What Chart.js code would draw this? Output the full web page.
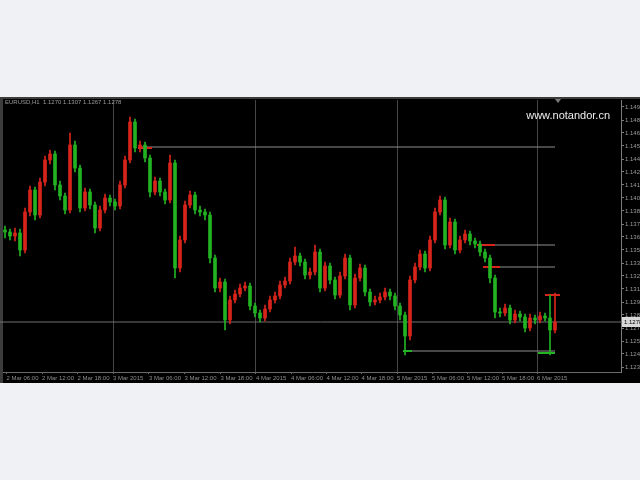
<!DOCTYPE html>
<html>
<head>
<meta charset="utf-8">
<script src="https://cdn.jsdelivr.net/npm/chart.js@4.4.0/dist/chart.umd.min.js"></script>
<style>
html,body{margin:0;padding:0;background:#eff1f4;overflow:hidden;}
#wrap{position:absolute;left:0;top:0;width:640px;height:480px;}
canvas{filter:blur(0.7px);}
</style>
</head>
<body>
<div id="wrap"><canvas id="c" width="640" height="480"></canvas></div>
<script>
// ---- data ----
const symbolTitle = "EURUSD,H1  1.1270 1.1307 1.1267 1.1278";
const watermark = "www.notandor.cn";

const opens = [1.1370,1.1368,1.1364,1.1367,1.1350,1.1388,1.1410,1.1385,1.1418,1.1440,
1.1446,1.1415,1.1404,1.1390,1.1455,1.1432,1.1392,1.1408,1.1395,1.1372,
1.1390,1.1402,1.1398,1.1394,1.1415,1.1440,1.1478,1.1452,1.1455,1.1442,
1.1408,1.1419,1.1408,1.1400,1.1437,1.1332,1.1360,1.1395,1.1405,1.1390,
1.1388,1.1385,1.1342,1.1312,1.1318,1.1280,1.1300,1.1306,1.1312,1.1314,
1.1294,1.1287,1.1282,1.1291,1.1300,1.1304,1.1315,1.1319,1.1338,1.1344,
1.1338,1.1325,1.1328,1.1348,1.1312,1.1334,1.1320,1.1305,1.1324,1.1342,
1.1295,1.1322,1.1332,1.1308,1.1298,1.1300,1.1303,1.1308,1.1304,1.1294,
1.1285,1.1264,1.1320,1.1333,1.1346,1.1332,1.1360,1.1388,1.1400,1.1355,
1.1378,1.1350,1.1360,1.1366,1.1359,1.1356,1.1348,1.1342,1.1322,1.1288,
1.1287,1.1292,1.1280,1.1286,1.1283,1.1272,1.1282,1.1280,1.1284,1.1282,
1.1270];

const highs = [1.1374,1.1371,1.1372,1.1371,1.1392,1.1414,1.1413,1.1422,1.1444,1.1450,
1.1449,1.1419,1.1407,1.1467,1.1459,1.1435,1.1412,1.1411,1.1398,1.1394,
1.1406,1.1405,1.1401,1.1419,1.1444,1.1483,1.1481,1.1459,1.1458,1.1445,
1.1423,1.1422,1.1411,1.1445,1.1440,1.1364,1.1399,1.1409,1.1408,1.1394,
1.1391,1.1388,1.1345,1.1322,1.1321,1.1304,1.1310,1.1316,1.1318,1.1317,
1.1297,1.1290,1.1295,1.1304,1.1308,1.1319,1.1323,1.1342,1.1353,1.1347,
1.1341,1.1332,1.1355,1.1351,1.1338,1.1337,1.1323,1.1328,1.1346,1.1345,
1.1326,1.1336,1.1335,1.1311,1.1304,1.1307,1.1312,1.1311,1.1307,1.1297,
1.1288,1.1324,1.1337,1.1350,1.1349,1.1364,1.1392,1.1404,1.1403,1.1382,
1.1381,1.1364,1.1370,1.1369,1.1362,1.1359,1.1351,1.1345,1.1325,1.1292,
1.1296,1.1295,1.1290,1.1289,1.1286,1.1286,1.1285,1.1288,1.1287,1.1305,
1.1307];

const lows = [1.1362,1.1360,1.1359,1.1344,1.1347,1.1384,1.1380,1.1382,1.1414,1.1436,
1.1410,1.1400,1.1386,1.1387,1.1428,1.1388,1.1389,1.1391,1.1367,1.1369,
1.1387,1.1394,1.1390,1.1391,1.1412,1.1437,1.1448,1.1448,1.1438,1.1403,
1.1405,1.1404,1.1396,1.1397,1.1322,1.1328,1.1357,1.1392,1.1386,1.1384,
1.1380,1.1337,1.1308,1.1308,1.1270,1.1276,1.1297,1.1303,1.1309,1.1290,
1.1283,1.1278,1.1279,1.1288,1.1297,1.1301,1.1312,1.1316,1.1335,1.1334,
1.1321,1.1321,1.1325,1.1308,1.1309,1.1316,1.1301,1.1302,1.1321,1.1290,
1.1292,1.1319,1.1304,1.1294,1.1295,1.1297,1.1300,1.1300,1.1290,1.1280,
1.1245,1.1260,1.1317,1.1330,1.1328,1.1329,1.1357,1.1385,1.1351,1.1352,
1.1346,1.1347,1.1357,1.1355,1.1352,1.1344,1.1338,1.1317,1.1282,1.1283,
1.1284,1.1276,1.1277,1.1279,1.1268,1.1269,1.1276,1.1277,1.1279,1.1245,
1.1267];

const closes = [1.1368,1.1364,1.1367,1.1350,1.1388,1.1410,1.1385,1.1418,1.1440,1.1446,
1.1415,1.1404,1.1390,1.1455,1.1432,1.1392,1.1408,1.1395,1.1372,1.1390,
1.1402,1.1398,1.1394,1.1415,1.1440,1.1478,1.1452,1.1455,1.1442,1.1408,
1.1419,1.1408,1.1400,1.1437,1.1332,1.1360,1.1395,1.1405,1.1390,1.1388,
1.1385,1.1342,1.1312,1.1318,1.1280,1.1300,1.1306,1.1312,1.1314,1.1294,
1.1287,1.1282,1.1291,1.1300,1.1304,1.1315,1.1319,1.1338,1.1344,1.1338,
1.1325,1.1328,1.1348,1.1312,1.1334,1.1320,1.1305,1.1324,1.1342,1.1295,
1.1322,1.1332,1.1308,1.1298,1.1300,1.1303,1.1308,1.1304,1.1294,1.1285,
1.1264,1.1320,1.1333,1.1346,1.1332,1.1360,1.1388,1.1400,1.1355,1.1378,
1.1350,1.1360,1.1366,1.1359,1.1356,1.1348,1.1342,1.1322,1.1288,1.1287,
1.1292,1.1280,1.1286,1.1283,1.1272,1.1282,1.1280,1.1284,1.1282,1.1270,
1.1278];

// horizontal levels: price, from bar index, to bar index
const levelPrices = [1.1453, 1.1355, 1.1333, 1.1249];
const levelFrom   = [27, 96.6, 96, 80.6];
const levelTo     = [110, 110, 110, 110];
const bidPrice = 1.1278;

// short marker segments
const markerPrices = [1.1452, 1.1355, 1.1333, 1.1305, 1.1247, 1.1249];
const markerFrom   = [26.6, 94.4, 95.6, 108, 106.6, 79.6];
const markerTo     = [29.4, 98, 99, 111, 110, 81.4];
const markerUp     = [true, true, true, true, false, false];

const priceTicks = [1.1493,1.1480,1.1467,1.1454,1.1441,1.1428,1.1415,1.1402,1.1389,1.1376,1.1363,
1.1350,1.1337,1.1324,1.1311,1.1298,1.1285,1.1272,1.1259,1.1246,1.1233];
const timeTicks = [0.3,7.4,14.5,21.6,28.8,35.9,43.1,50.2,57.2,64.3,71.3,78.4,85.4,92.4,99.4,106.4];
const timeLabels = ["2 Mar 06:00","2 Mar 12:00","2 Mar 18:00","3 Mar 2015","3 Mar 06:00","3 Mar 12:00",
"3 Mar 18:00","4 Mar 2015","4 Mar 06:00","4 Mar 12:00","4 Mar 18:00","5 Mar 2015","5 Mar 06:00",
"5 Mar 12:00","5 Mar 18:00","6 Mar 2015"];
const sessionLines = [21.6, 50.2, 78.4, 106.4];

// ---- styles ----
const UP = '#d8251b', DOWN = '#23b323';
const candleColor = i => closes[i] >= opens[i] ? UP : DOWN;

const datasets = [];
datasets.push({
  type:'bar', label:'wick', order:0, grouped:false, barThickness:1,
  data: opens.map((o,i)=>({x:i, y:[lows[i], highs[i]]})),
  backgroundColor: ctx => candleColor(ctx.dataIndex), borderWidth:0
});
datasets.push({
  type:'bar', label:'body', order:0, grouped:false, barThickness:3, minBarLength:1,
  data: opens.map((o,i)=>({x:i, y:[o, closes[i]]})),
  backgroundColor: ctx => candleColor(ctx.dataIndex), borderWidth:0
});
levelPrices.forEach((p,k)=>{
  datasets.push({type:'line', order:2, data:[{x:levelFrom[k],y:p},{x:levelTo[k],y:p}],
    borderColor:'#8e8e8e', borderWidth:1, pointRadius:0});
});
datasets.push({type:'line', order:2, data:[{x:-1,y:bidPrice},{x:130,y:bidPrice}],
  borderColor:'#6e6e6e', borderWidth:1, pointRadius:0, clip:false});
markerPrices.forEach((p,k)=>{
  datasets.push({type:'line', order:1, data:[{x:markerFrom[k],y:p},{x:markerTo[k],y:p}],
    borderColor: markerUp[k] ? UP : DOWN, borderWidth:2, pointRadius:0});
});

const framePlugin = {
  id:'frame',
  beforeDraw(chart){
    const c = chart.ctx;
    c.save();
    c.fillStyle = '#eff1f4'; c.fillRect(0,0,640,480);
    c.fillStyle = '#000'; c.fillRect(0,97,640,286);
    c.fillStyle = '#3c3c3c'; c.fillRect(0,97,640,2); c.fillRect(0,97,3,286);
    c.restore();
  },
  afterDraw(chart){
    const c = chart.ctx, y = chart.scales.y;
    c.save();
    c.font = '6px "Liberation Sans", Arial, sans-serif';
    c.fillStyle = '#9a9a9a'; c.textBaseline = 'middle'; c.textAlign = 'left';
    c.fillText(symbolTitle, 5, 102);
    c.font = '11px "Liberation Sans", Arial, sans-serif';
    c.fillStyle = '#ececec'; c.textAlign = 'right';
    c.fillText(watermark, 610, 116);
    // bid label
    const by = y.getPixelForValue(bidPrice);
    c.fillStyle = '#d8d8d8'; c.fillRect(622, by-5, 18, 10);
    c.fillStyle = '#000'; c.font = '6px "Liberation Sans", Arial, sans-serif'; c.textAlign='left';
    c.fillText(bidPrice.toFixed(4), 624, by);
    // shift marker
    c.fillStyle = '#7a7a7a';
    c.beginPath(); c.moveTo(555,99); c.lineTo(561,99); c.lineTo(558,103); c.closePath(); c.fill();
    c.restore();
  }
};

new Chart(document.getElementById('c'), {
  type:'bar',
  data:{datasets},
  plugins:[framePlugin],
  options:{
    responsive:false, animation:false,
    layout:{padding:{left:3, right:0, top:100, bottom:98}},
    plugins:{legend:{display:false}, tooltip:{enabled:false}},
    scales:{
      x:{
        type:'linear', min:-0.4, max:123.2, offset:false,
        afterBuildTicks: s => { s.ticks = timeTicks.map(v=>({value:v})); },
        afterFit: s => { s.height = 10; },
        grid:{ offset:false,
               color: ctx => (ctx.tick && sessionLines.includes(ctx.tick.value)) ? '#464646' : 'rgba(0,0,0,0)',
               drawOnChartArea:true, drawTicks:true, tickLength:2, tickColor:'#6a6a6a', lineWidth:1 },
        border:{display:true, color:'#6a6a6a'},
        ticks:{ autoSkip:false, maxRotation:0, minRotation:0, align:'start', padding:1,
                color:'#8c8c8c', font:{size:6, family:'"Liberation Sans", Arial, sans-serif'},
                callback:(v,i)=> timeLabels[i] }
      },
      y:{
        type:'linear', position:'right', min:1.1228, max:1.1500,
        afterBuildTicks: s => { s.ticks = priceTicks.map(v=>({value:v})); },
        afterFit: s => { s.width = 19; },
        grid:{ drawOnChartArea:false, drawTicks:true, tickLength:3, tickColor:'#7a7a7a' },
        border:{display:true, color:'#7a7a7a'},
        ticks:{ padding:1, color:'#9a9a9a', font:{size:6, family:'"Liberation Sans", Arial, sans-serif'},
                callback: v => Number(v).toFixed(4) }
      }
    }
  }
});
</script>
</body>
</html>
